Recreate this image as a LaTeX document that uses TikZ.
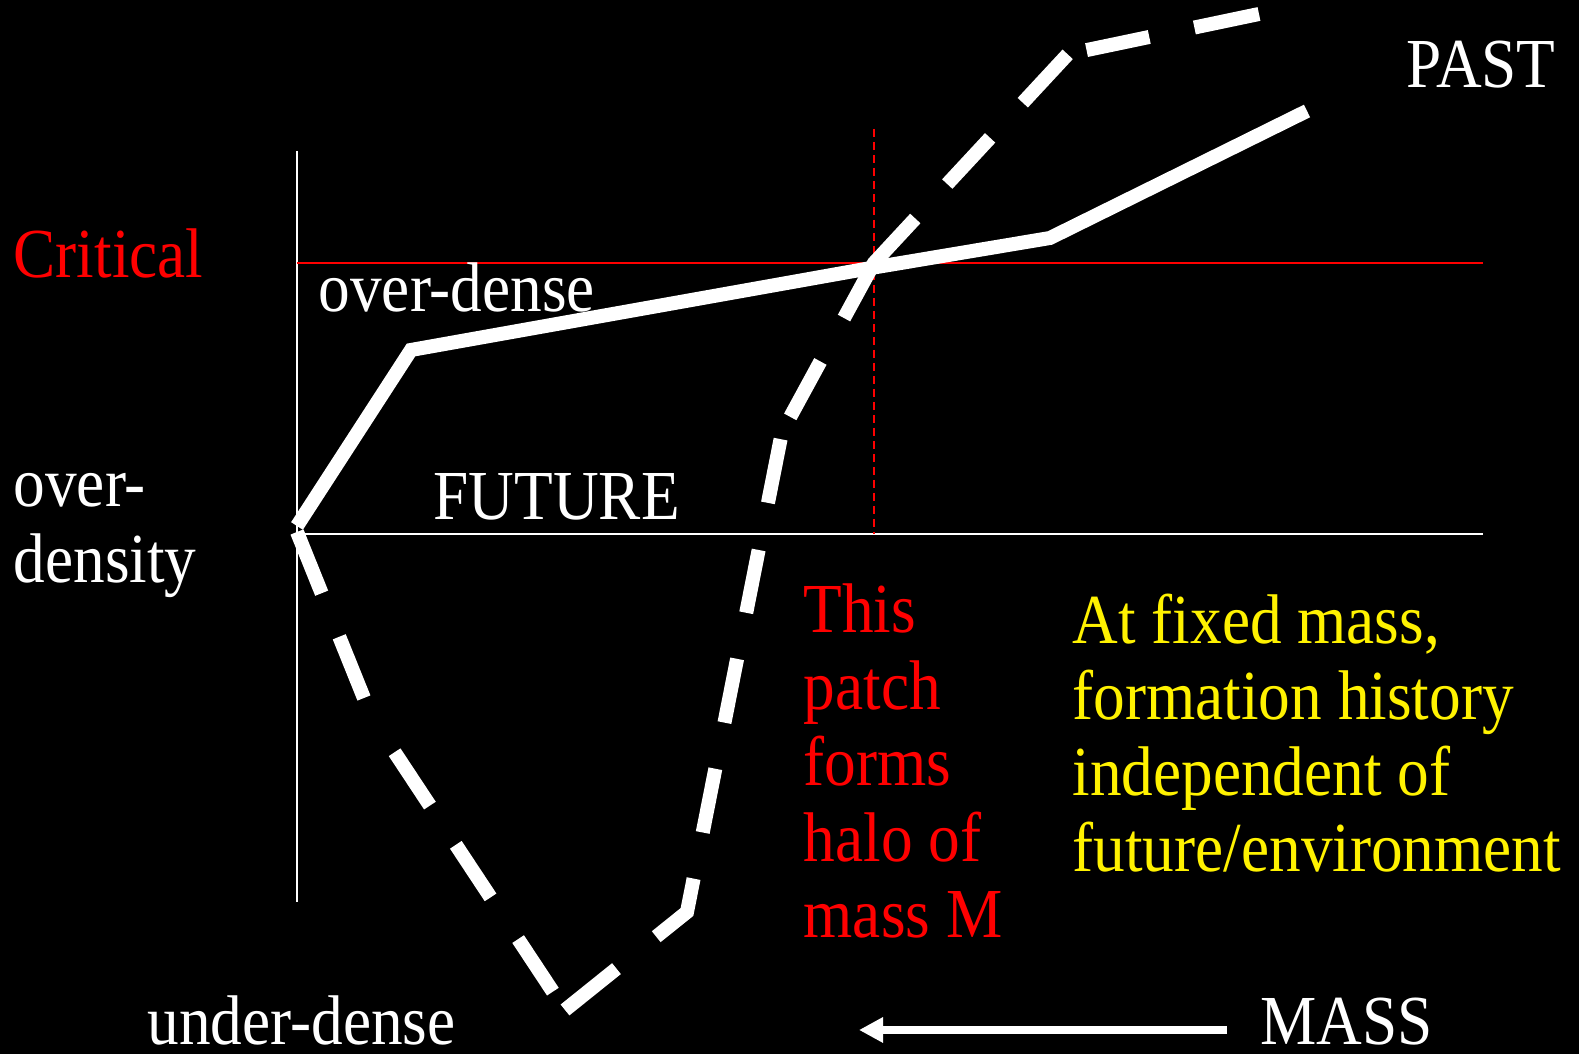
\documentclass[tikz,border=0pt]{standalone}
\usepackage{fontspec}
\setmainfont{Liberation Serif}[FakeStretch=0.9]
\usetikzlibrary{arrows.meta}

\begin{document}
\begin{tikzpicture}[
      x=0.1mm,
      y=-0.1mm,
      every node/.style={inner sep=0pt, anchor=base west, align=left,
        font=\fontsize{20}{21.7}\selectfont},
      axisline/.style={white, line width=0.2mm},
      critline/.style={red, line width=0.25mm},
      massline/.style={red, line width=0.2mm, dash pattern=on 0.8mm off 0.5mm},
      histline/.style={white, line width=1.4mm, line join=miter},
      % dash lengths follow the slide's own dashes along the path
      histdash/.style={histline, dash pattern=on 6.6mm off 4.7mm on 6.6mm off 6.26mm
        on 6.4mm off 4.7mm on 6.3mm off 5mm on 6.3mm off 2.2mm
        on 6.6mm off 5.1mm on 7.35mm off 4.7mm on 6.5mm off 4.7mm
        on 6.5mm off 4.7mm on 6.4mm off 4.8mm on 6.5mm off 2.45mm
        on 6.31mm off 4.94mm on 12.34mm off 4.7mm on 6.3mm off 4.8mm
        on 6.6mm off 1.94mm on 6.41mm off 4.61mm on 6.6mm off 5mm},
      massarrow/.style={white, line width=0.8mm, -{Triangle[length=2.4mm, width=2.4mm]}}
    ]

    % --- 1. background and frame ---
    \useasboundingbox (0,0) rectangle (1579,1054);
    \fill[black] (0,0) rectangle (1579,1054);

    % --- 2. axes ---
    \coordinate (ytop) at (297,151);
    \coordinate (ybot) at (297,902);
    \coordinate (xleft) at (297,534);
    \coordinate (xright) at (1483,534);
    \draw[axisline] (ytop) -- (ybot);
    \draw[axisline] (xleft) -- (xright);

    % critical threshold and the mass of this patch
    \coordinate (critL) at (297,263);
    \coordinate (critR) at (1483,263);
    \draw[critline] (critL) -- (critR);
    \coordinate (mtop) at (874,129);
    \coordinate (mbot) at (874,534);
    \draw[massline] (mtop) -- (mbot);

    % --- 3. over-dense history (solid) ---
    \coordinate (s0) at (297,526);
    \coordinate (s1) at (411,350);
    \coordinate (s2) at (871,268);
    \coordinate (s3) at (1050,238);
    \coordinate (s4) at (1307,111);
    \draw[histline] (s0) -- (s1) -- (s2) -- (s3) -- (s4);

    % --- 4. under-dense history (dashed) ---
    \coordinate (d0) at (297,532);
    \coordinate (dk) at (372,718);
    \coordinate (d1) at (565,1010);
    \coordinate (d2) at (687,912);
    \coordinate (d3) at (782,432);
    \coordinate (d4) at (874,263);
    \coordinate (d5) at (1068,54);
    \coordinate (d6) at (1259,14);
    \draw[histdash] (d0) -- (dk) -- (d1) -- (d2) -- (d3) -- (d4) -- (d5) -- (d6);

    % --- 5. labels (multi-line nodes sit on their last baseline) ---
    \node[text=red] (critical) at (13,278) {Critical};
    \node[text=white] (overdensity) at (13,583) {over-\\density};
    \node[text=white] (overdense) at (318,312) {over-dense};
    \node[text=white] (future) at (433,520) {FUTURE};
    \node[text=white] (past) at (1406,88) {PAST};
    \node[text=white] (underdense) at (147,1045) {under-dense};
    \node[text=white] (mass) at (1260,1045) {MASS};

    \node[text=red] (patch) at (803,938) {This\\patch\\forms\\halo of\\mass M};
    \node[text=yellow] (note) at (1072,872)
      {At fixed mass,\\formation history\\independent of\\future/environment};

    % --- 6. mass axis arrow ---
    \coordinate (arrowtail) at (1227,1030);
    \coordinate (arrowtip) at (859,1030);
    \draw[massarrow] (arrowtail) -- (arrowtip);

  \end{tikzpicture}
\end{document}
